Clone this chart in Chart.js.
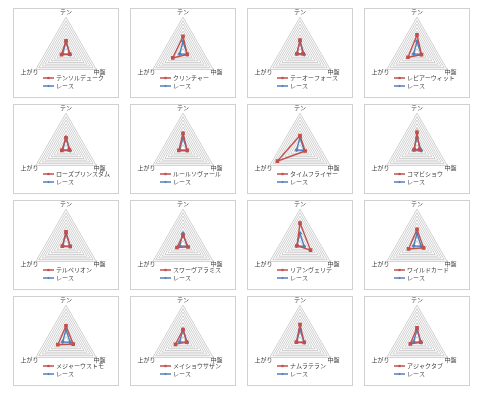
<!DOCTYPE html>
<html>
<head>
<meta charset="utf-8">
<script src="https://cdn.jsdelivr.net/npm/chart.js@4/dist/chart.umd.min.js"></script>
<style>
  body { margin: 0; background: #fff; width: 480px; height: 394px; position: relative; overflow: hidden; }
  .panel { position: absolute; width: 106px; height: 90px; border: 1px solid #d0d0d0; box-sizing: border-box; background: #fff; }
  canvas { position: absolute; }
</style>
</head>
<body>
<script>
  // axis labels, clockwise from top
  const axes = ['テン', '中盤', '上がり'];
  const raceLabel = 'レース';

  const horses = [
    'テンソルデューク', 'クリンチャー', 'テーオーフォース', 'レピアーウィット',
    'ローズプリンスダム', 'ルールソヴァール', 'タイムフライヤー', 'コマビショウ',
    'テルペリオン', 'スワーヴアラミス', 'リアンヴェリテ', 'ワイルドカード',
    'メジャーウストモ', 'メイショウサザン', 'ナムラテラン', 'アジャクタブ'
  ];

  // [テン, 中盤, 上がり]
  const horseValues = [
    [3.2, 1.2, 1.5], [4.5, 1.4, 3.4], [3.4, 1.0, 1.0], [4.9, 1.5, 3.0],
    [2.9, 1.1, 1.4], [4.2, 1.4, 1.4], [3.6, 1.7, 7.5], [4.5, 0.9, 0.9],
    [3.5, 1.4, 1.2], [2.5, 1.7, 2.0], [6.0, 3.5, 1.0], [4.2, 2.2, 2.8],
    [4.1, 2.4, 2.7], [3.0, 1.2, 2.5], [4.4, 1.4, 1.2], [3.5, 1.2, 2.2]
  ];
  const raceValues = [3.0, 1.4, 1.1];

  const colLeft = [13, 130, 247, 364];
  const rowTop = [8, 104, 200, 296];
  const PW = 106, CW = 124, CH = 88;

  const excelLegend = {
    id: 'excelLegend',
    afterDraw(chart, args, opts) {
      const ctx = chart.ctx;
      chart.data.datasets.forEach((ds, i) => {
        const y = opts.y + i * opts.gap;
        ctx.save();
        ctx.strokeStyle = ds.borderColor; ctx.lineWidth = 1.5;
        ctx.beginPath(); ctx.moveTo(opts.x, y); ctx.lineTo(opts.x + 11, y); ctx.stroke();
        ctx.fillStyle = ds.borderColor; ctx.strokeStyle = ds.borderColor; ctx.lineWidth = 1;
        Chart.helpers.drawPoint(ctx, { pointStyle: ds.pointStyle, radius: ds.pointRadius, rotation: 0 }, opts.x + 5.5, y);
        ctx.fillStyle = '#404040'; ctx.font = '6px "Noto Sans CJK JP"'; ctx.textBaseline = 'middle';
        ctx.fillText(ds.label, opts.x + 13, y);
        ctx.restore();
      });
    }
  };

  horses.forEach((name, i) => {
    const left = colLeft[i % 4], top = rowTop[Math.floor(i / 4)];
    const panel = document.createElement('div');
    panel.className = 'panel';
    panel.style.left = left + 'px'; panel.style.top = top + 'px';
    document.body.appendChild(panel);

    const c = document.createElement('canvas');
    c.width = CW; c.height = CH;
    c.style.left = (left + PW / 2 - CW / 2) + 'px';
    c.style.top = (top - 4) + 'px';
    document.body.appendChild(c);

    new Chart(c.getContext('2d'), {
      type: 'radar',
      data: {
        labels: axes,
        datasets: [
          { label: name, data: horseValues[i], borderColor: '#c0504d', backgroundColor: '#c0504d',
            borderWidth: 1.4, pointStyle: 'rect', pointRadius: 1.6, fill: false },
          { label: raceLabel, data: raceValues, borderColor: '#4f81bd', backgroundColor: '#4f81bd',
            borderWidth: 1.4, pointStyle: 'rectRot', pointRadius: 1.2, fill: false }
        ]
      },
      options: {
        responsive: false, animation: false, devicePixelRatio: 1,
        plugins: {
          legend: { display: false }, tooltip: { enabled: false },
          excelLegend: { x: 39, y: 74, gap: 8 }
        },
        elements: { line: { tension: 0 } },
        scales: {
          r: {
            min: 0, max: 10,
            ticks: { display: false, stepSize: 1 },
            grid: { color: '#cfcfcf', lineWidth: 1 },
            angleLines: { display: false },
            pointLabels: {
              color: '#404040',
              padding: (ctx) => ctx.index === 0 ? 2 : -3,
              font: { size: 6, family: '"Noto Sans CJK JP"' }
            }
          }
        }
      },
      plugins: [excelLegend]
    });
  });
</script>
</body>
</html>
